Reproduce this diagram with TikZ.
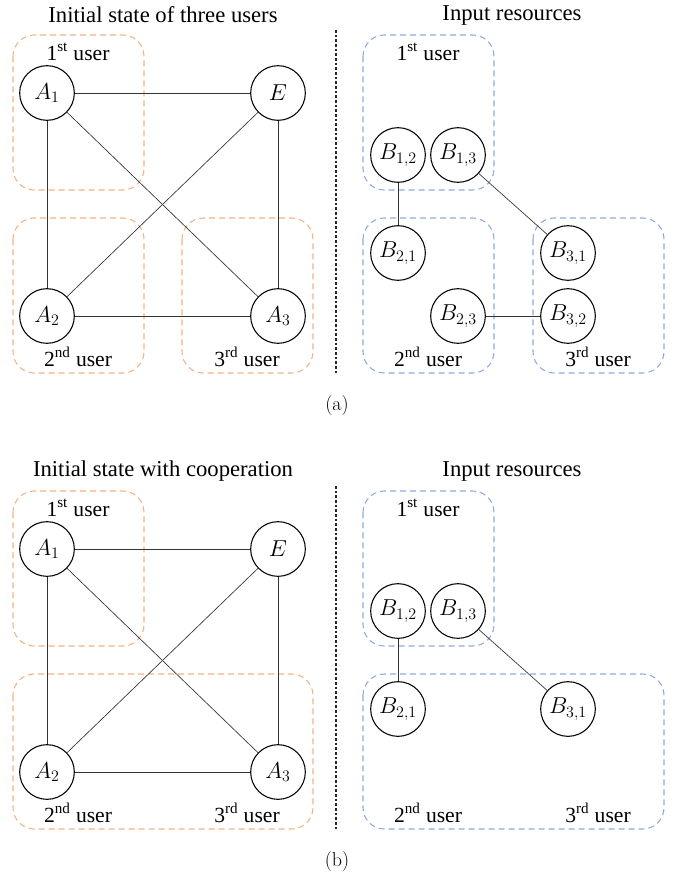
\documentclass[tikz,border=0pt]{standalone}
\usepackage{fontspec}
\setmainfont{Liberation Serif}
\newfontfamily\tnr{Liberation Serif}
\newfontfamily\lmfont{Latin Modern Roman}
\begin{document}
\begin{tikzpicture}[x=0.75pt,y=-0.75pt,
  vnode/.style={circle,draw,line width=0.8pt,minimum size=41pt,inner sep=0pt,font=\fontsize{18}{20}\selectfont},
  obox/.style={draw={rgb,255:red,244;green,177;blue,131},dash pattern=on 4.5pt off 3pt,line width=0.8pt,rounded corners=16pt},
  bbox/.style={draw={rgb,255:red,143;green,170;blue,220},dash pattern=on 4.5pt off 3pt,line width=0.8pt,rounded corners=16pt},
  edge/.style={draw=black!80,line width=0.5pt},
  lbl/.style={font=\tnr\fontsize{16.2}{18}\selectfont,inner sep=0pt},
  ttl/.style={font=\tnr\fontsize{17}{19}\selectfont,inner sep=0pt},
  captext/.style={font=\lmfont\fontsize{15}{17}\selectfont,inner sep=0pt},
  divider/.style={draw=black!85,dash pattern=on 2pt off 1.5pt,line width=0.8pt}]
\useasboundingbox (0,0) rectangle (674,877);

% ================= (a) =================
\node[ttl] (ta) at (163,15) {Initial state of three users};
\node[ttl] (ira) at (512,15) {Input resources};
\coordinate (da1) at (336,30);
\coordinate (da2) at (336,373);
\draw[divider] (da1) -- (da2);

\draw[obox] (13,35) rectangle (144,190);
\draw[obox] (13,218) rectangle (144,373);
\draw[obox] (182,218) rectangle (313,373);
\node[lbl] (ua1) at (78,52) {1\textsuperscript{st} user};
\node[lbl] (ua2) at (78,357) {2\textsuperscript{nd} user};
\node[lbl] (ua3) at (247,357) {3\textsuperscript{rd} user};

\node[vnode] (A1) at (47,93) {$A_1$};
\node[vnode] (E) at (278,93) {$E$};
\node[vnode] (A2) at (47,316) {$A_2$};
\node[vnode] (A3) at (278,316) {$A_3$};
\draw[edge] (A1) -- (E);
\draw[edge] (A1) -- (A2);
\draw[edge] (A1) -- (A3);
\draw[edge] (E) -- (A2);
\draw[edge] (E) -- (A3);
\draw[edge] (A2) -- (A3);

\draw[bbox] (363,35) rectangle (494,190);
\draw[bbox] (363,218) rectangle (494,373);
\draw[bbox] (533,218) rectangle (664,373);
\node[lbl] (ra1) at (428,52) {1\textsuperscript{st} user};
\node[lbl] (ra2) at (428,357) {2\textsuperscript{nd} user};
\node[lbl] (ra3) at (598,357) {3\textsuperscript{rd} user};

\node[vnode] (B12) at (398,155) {$B_{1,2}$};
\node[vnode] (B13) at (458,155) {$B_{1,3}$};
\node[vnode] (B21) at (398,253) {$B_{2,1}$};
\node[vnode] (B23) at (458,316) {$B_{2,3}$};
\node[vnode] (B31) at (568,253) {$B_{3,1}$};
\node[vnode] (B32) at (568,316) {$B_{3,2}$};
\draw[edge] (B12) -- (B21);
\draw[edge] (B13) -- (B31);
\draw[edge] (B23) -- (B32);

\node[captext] (capa) at (337,406) {(a)};

% ================= (b) =================
\node[ttl] (tb) at (163,471) {Initial state with cooperation};
\node[ttl] (irb) at (512,471) {Input resources};
\coordinate (db1) at (336,486);
\coordinate (db2) at (336,829);
\draw[divider] (db1) -- (db2);

\draw[obox] (13,491) rectangle (144,646);
\draw[obox] (13,674) rectangle (313,829);
\node[lbl] (ub1) at (78,508) {1\textsuperscript{st} user};
\node[lbl] (ub2) at (78,813) {2\textsuperscript{nd} user};
\node[lbl] (ub3) at (247,813) {3\textsuperscript{rd} user};

\node[vnode] (bA1) at (47,549) {$A_1$};
\node[vnode] (bE) at (278,549) {$E$};
\node[vnode] (bA2) at (47,772) {$A_2$};
\node[vnode] (bA3) at (278,772) {$A_3$};
\draw[edge] (bA1) -- (bE);
\draw[edge] (bA1) -- (bA2);
\draw[edge] (bA1) -- (bA3);
\draw[edge] (bE) -- (bA2);
\draw[edge] (bE) -- (bA3);
\draw[edge] (bA2) -- (bA3);

\draw[bbox] (363,491) rectangle (494,646);
\draw[bbox] (363,674) rectangle (664,829);
\node[lbl] (rb1) at (428,508) {1\textsuperscript{st} user};
\node[lbl] (rb2) at (428,813) {2\textsuperscript{nd} user};
\node[lbl] (rb3) at (598,813) {3\textsuperscript{rd} user};

\node[vnode] (bB12) at (398,611) {$B_{1,2}$};
\node[vnode] (bB13) at (458,611) {$B_{1,3}$};
\node[vnode] (bB21) at (398,709) {$B_{2,1}$};
\node[vnode] (bB31) at (568,709) {$B_{3,1}$};
\draw[edge] (bB12) -- (bB21);
\draw[edge] (bB13) -- (bB31);

\node[captext] (capb) at (337,861) {(b)};
\end{tikzpicture}
\end{document}
